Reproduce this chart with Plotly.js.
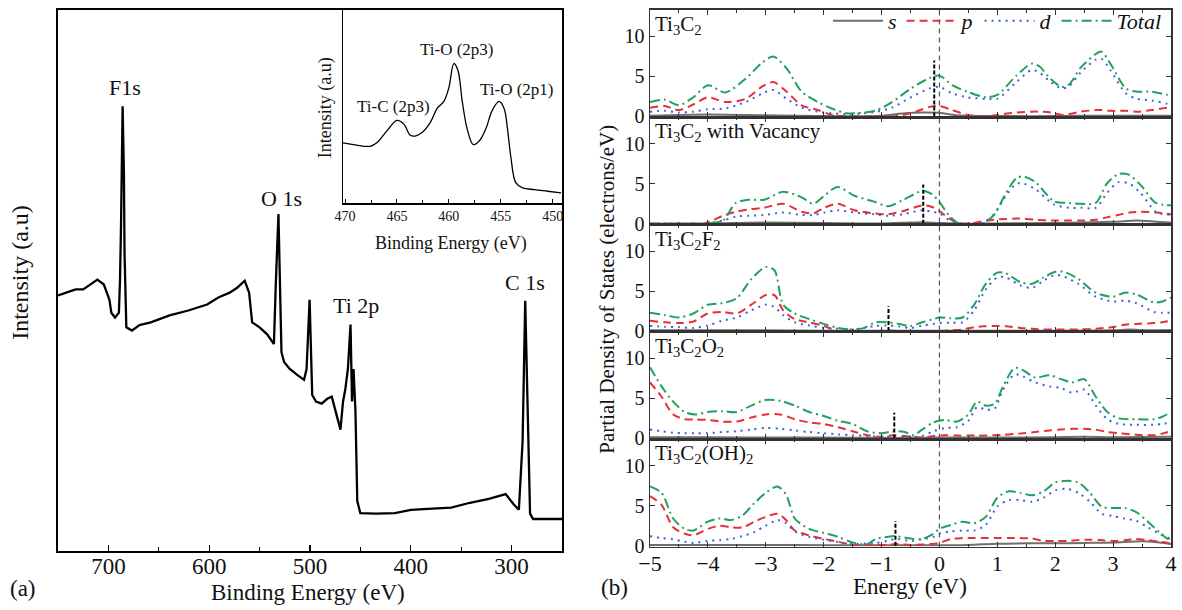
<!DOCTYPE html>
<html><head><meta charset="utf-8">
<script src="https://cdn.plot.ly/plotly-3.0.1.min.js"></script>
<style>html,body{margin:0;padding:0;background:#fff;} #chart{width:1182px;height:610px;}</style>
</head><body><div id="chart"></div>
<script>
// ---------- (a) XPS survey ----------
const xpsE = [750,741.8,732.5,725,717.6,710.9,704.5,699,697.1,693.4,689.6,688.5,687.5,685.9,684.6,684,682.2,676.6,669.2,658,639.3,620.7,602.1,590.9,579.7,572.3,564.8,560.4,557.4,550,542.5,538.7,535.8,533.9,531.3,529.4,528.3,525.7,520.1,512.7,505.9,503.4,500.4,497.8,494,488.4,482.9,478.4,473.5,469.8,467.2,465,462.4,459.8,458.3,456.8,454.9,453.1,450.1,434.4,415.8,399.8,378.5,359.9,341.3,322.6,305.9,298.4,292.8,289.1,286.5,284.6,281.7,278.7,266.8,250];
const xpsI = [47.3,47.8,48.4,48.4,49.3,50.2,49.3,46.5,44.1,43.2,44.1,50,60,82.2,70,55.1,41.4,40.8,41.8,42.3,43.6,44.5,45.6,46.9,47.8,48.7,50.0,47.8,42.3,41.4,40.1,39.2,38.3,49.6,62.3,46.0,36.8,35.0,33.7,32.6,31.7,33.7,46.5,28.9,27.7,27.3,28.2,28.6,25.3,22.5,27.7,29.9,33.7,41.9,27.7,33.7,25.8,9.3,7.1,7.0,7.1,7.7,7.9,8.1,9.0,9.7,10.6,8.8,7.7,20.3,46.3,31.9,7.0,6.0,6.0,6.0];
const xpsTickVals = [700,600,500,400,300];
const xpsLabels = ['F1s','O 1s','Ti 2p','C 1s'];
const xpsLabelE = [684,528.3,454.2,287.2];
const xpsLabelI = [85.7,65.2,45.4,49.6];

// inset Ti 2p
const insetE = [470.2,469.19,467.58,466.94,465.97,465.0,464.35,463.71,463.23,462.58,461.77,461.13,460.48,460.0,459.52,459.13,458.71,458.23,457.65,457.1,456.45,455.81,455.16,454.68,454.35,454.03,453.55,452.9,451.77,450.48,449.19];
const insetI = [31.3,30.4,29.5,31.3,37.5,42.9,41.1,35.2,34.8,36.6,42.0,49.1,52.7,59.8,72.3,68.8,52.7,38.4,30.4,32.1,38.4,48.2,52.7,49.1,38.4,24.1,10.7,8.0,7.1,6.25,5.4];
const insetTickVals = [470,465,460,455,450];
const insetLabels = ['Ti-C (2p3)','Ti-O (2p3)','Ti-O (2p1)'];
const insetLabelE = [465.3,459.2,453.4];
const insetLabelI = [50,79.5,58.9];

// ---------- (b) PDOS ----------
const panelNames = ['Ti<sub>3</sub>C<sub>2</sub>','Ti<sub>3</sub>C<sub>2</sub> with Vacancy','Ti<sub>3</sub>C<sub>2</sub>F<sub>2</sub>','Ti<sub>3</sub>C<sub>2</sub>O<sub>2</sub>','Ti<sub>3</sub>C<sub>2</sub>(OH)<sub>2</sub>'];
const seriesNames = ['s','p','d','Total'];
const fermiE = 0;
const markE = [-0.09,-0.28,-0.88,-0.78,-0.76];
const markH = [7.0,4.9,3.1,3.2,3.1];

const E1 = [-5,-4.75,-4.5,-4.25,-4,-3.7,-3.35,-3.05,-2.87,-2.64,-2.38,-2.1,-1.86,-1.6,-1.3,-1.08,-0.82,-0.49,-0.17,0,0.22,0.48,0.81,1.0,1.33,1.59,1.72,1.92,2.11,2.24,2.44,2.7,2.8,2.96,3.22,3.41,3.67,3.93,4];
const tot1 = [1.8,2.1,1.4,2.4,3.9,3.0,4.7,6.8,7.5,6.0,3.1,1.8,1.0,0.4,0.5,0.8,1.8,3.5,4.8,5.1,3.9,3.1,2.4,2.7,5.1,6.6,6.3,4.7,3.7,4.0,6.1,7.8,8.1,6.5,3.5,3.1,3.1,2.7,2.6];
const p1 = [1.1,1.3,0.8,1.5,2.4,1.8,2.2,3.8,4.3,3.1,1.4,0.8,0.2,0,0,0,0,0.4,1.2,1.3,0.8,0.2,0,0.2,0.5,0.6,0.6,0.5,0.2,0.3,0.6,0.8,0.8,0.7,0.7,0.6,0.8,1.1,1.1];
const d1 = [0.6,0.7,0.5,0.6,0.9,1.0,1.8,2.9,3.3,2.2,1.1,0.6,0.4,0.3,0.4,0.6,1.1,2.4,3.5,3.7,2.9,2.4,2.2,2.2,4.3,5.8,5.5,4.3,3.5,3.8,5.5,7.1,7.2,5.7,2.9,2.2,2.0,1.6,1.5];
const sE1 = [-5,-4,-3,-2,-1,-0.6,-0.3,0,0.3,1,2,3,4];
const s1 = [0.1,0.25,0.15,0.05,0.1,0.4,0.5,0.45,0.15,0.05,0.05,0.1,0.1];

const E2 = [-5,-4.3,-4.07,-3.74,-3.52,-3.29,-3.03,-2.7,-2.38,-2.18,-1.99,-1.76,-1.47,-1.14,-0.88,-0.62,-0.29,-0.13,0,0.16,0.32,0.48,0.74,0.94,1.14,1.33,1.46,1.66,1.98,2.24,2.44,2.7,2.89,3.09,3.28,3.48,3.74,4];
const tot2 = [0,0,0,0.4,2.6,3.0,3.0,4.0,3.3,2.5,3.5,4.6,3.5,2.8,2.2,3.0,4.1,3.7,2.7,1.1,0.1,0,0,1.1,3.7,5.7,5.9,5.2,2.8,2.6,2.5,2.6,5.0,6.2,6.1,4.8,2.6,2.3];
const p2 = [0,0,0,1.0,1.5,1.8,2.0,2.5,1.5,1.3,2.0,2.5,1.7,1.3,1.2,1.6,2.3,2.1,1.6,0.7,0.1,0,0.3,0.5,0.6,0.65,0.65,0.5,0.4,0.4,0.4,0.5,0.8,1.1,1.4,1.5,1.4,1.2];
const d2 = [0,0,0,0.4,0.9,1.0,1.1,1.4,1.1,1.1,1.4,1.7,1.4,1.2,1.0,1.2,1.7,1.5,1.3,0.5,0.1,0,0.1,1.2,3.4,5.0,5.0,4.3,2.4,2.0,2.0,2.0,3.8,5.2,5.0,3.8,1.5,1.1];
const sE2 = [-5,-4,-3,-2,-1,-0.3,0,0.5,1,2,3,3.4,3.7,4];
const s2 = [0,0.05,0.15,0.1,0.05,0.2,0.1,0,0.05,0.1,0.25,0.4,0.3,0.15];

const E3 = [-5,-4.75,-4.5,-4.25,-4,-3.75,-3.5,-3.25,-3.0,-2.85,-2.7,-2.5,-2.25,-2,-1.75,-1.5,-1.3,-1.1,-0.9,-0.7,-0.5,-0.3,-0.1,0,0.2,0.4,0.6,0.8,1.0,1.15,1.4,1.6,1.8,2.0,2.15,2.4,2.7,3.0,3.2,3.4,3.7,3.85,4];
const tot3 = [2.3,2.0,1.7,2.2,3.3,3.5,4.1,6.5,8.0,7.6,3.3,2.2,1.5,0.9,0.4,0.2,0.4,1.1,1.1,0.9,0.65,1.1,1.5,1.7,1.6,1.7,3.3,5.9,7.3,7.2,6.1,5.9,6.7,7.4,7.4,6.5,4.8,4.3,4.8,4.6,3.6,3.7,4.2];
const p3 = [1.3,1.1,1.0,1.2,2.2,2.4,2.2,3.3,4.5,4.5,2.6,1.5,1.1,0.65,0,0,0,0,0.1,0,0,0,0,0,0.1,0.2,0.5,0.6,0.65,0.6,0.4,0.3,0.2,0.2,0.2,0.2,0.3,0.5,0.8,0.9,1.0,1.1,1.3];
const d3 = [0.65,0.55,0.5,0.4,0.7,1.3,1.7,2.6,3.3,3.0,2.0,1.1,0.7,0.4,0.3,0.2,0.4,0.65,0.7,0.6,0.4,0.7,0.9,1.0,1.05,1.1,2.6,5.2,6.7,6.7,5.7,5.4,6.3,7.0,6.8,5.9,4.3,3.7,3.8,3.5,2.4,2.3,2.3];
const sE3 = [-5,-4,-3,-2,-1,0,1,2,3,3.3,3.6,4];
const s3 = [0.1,0.1,0.1,0.05,0.05,0.05,0.05,0.05,0.1,0.2,0.1,0.15];

const E4 = [-5,-4.8,-4.6,-4.4,-4.2,-4.0,-3.75,-3.5,-3.25,-3.0,-2.75,-2.5,-2.25,-2.0,-1.75,-1.5,-1.25,-1.0,-0.8,-0.6,-0.45,-0.3,-0.1,0.1,0.3,0.5,0.65,0.8,0.95,1.1,1.3,1.45,1.65,1.9,2.1,2.3,2.5,2.7,2.9,3.1,3.4,3.7,3.85,4];
const tot4 = [8.9,6.5,4.6,3.3,3.0,3.3,3.4,3.3,4.1,4.8,4.7,4.1,3.3,2.8,2.2,1.8,0.9,0.65,0.9,0.8,0.4,1.1,2.0,2.3,2.1,3.0,4.6,4.1,4.3,6.5,8.8,8.5,7.6,7.9,7.4,7.0,7.4,5.2,3.3,2.5,2.4,2.4,2.7,3.3];
const p4 = [7.0,5.2,3.0,2.4,2.35,2.3,2.1,2.1,2.6,3.0,3.0,2.4,2.0,1.8,1.4,0.9,0.4,0.2,0.4,0.3,0.2,0.1,0.3,0.4,0.35,0.35,0.35,0.35,0.4,0.45,0.55,0.65,0.8,1.0,1.1,1.2,1.2,1.1,0.8,0.65,0.45,0.4,0.6,0.9];
const d4 = [1.1,0.9,0.7,0.65,0.65,0.65,0.8,0.9,1.1,1.3,1.2,1.0,0.8,0.65,0.5,0.4,0.3,0.2,0.2,0.2,0.2,0.3,0.9,1.3,1.4,2.2,3.9,3.6,3.7,6.1,8.0,7.7,7.0,6.5,6.3,5.7,6.1,4.1,2.4,1.8,1.7,1.7,1.8,2.0];
const sE4 = [-5,-4,-3,-2,-1,0,1,2,2.5,3,4];
const s4 = [0.15,0.15,0.1,0.1,0.05,0.1,0.1,0.15,0.2,0.15,0.2];

const E5 = [-5,-4.8,-4.6,-4.4,-4.25,-4.0,-3.8,-3.6,-3.4,-3.2,-3.0,-2.8,-2.65,-2.5,-2.25,-2.0,-1.75,-1.5,-1.25,-1.1,-0.9,-0.75,-0.5,-0.3,-0.1,0,0.2,0.4,0.6,0.8,1.0,1.2,1.4,1.6,1.8,2.0,2.2,2.4,2.6,2.8,3.0,3.2,3.4,3.6,3.8,3.95,4];
const tot5 = [7.4,6.6,3.4,2.1,1.9,3.0,3.4,3.2,3.8,5.3,6.6,7.4,6.4,3.4,2.1,1.6,1.1,0.4,0.2,0.85,1.1,1.2,0.9,0.85,1.5,2.1,2.6,3.0,2.8,3.6,6.0,6.8,6.6,6.3,6.8,7.9,8.1,7.9,6.6,4.9,4.7,4.7,4.2,3.0,1.7,0.85,1.2];
const p5 = [6.2,5.1,2.3,1.5,1.3,2.1,2.5,2.3,2.3,3.0,3.6,4.0,3.2,1.9,1.3,0.85,0.5,0.1,0.1,0.1,0.1,0.2,0.1,0.15,0.25,0.35,0.85,0.95,0.95,0.95,0.95,0.95,0.95,0.9,0.6,0.6,0.6,0.7,0.75,0.7,0.6,0.7,0.85,0.7,0.5,0.35,0.1];
const d5 = [1.2,0.95,0.8,0.5,0.35,0.6,0.7,0.85,1.2,1.7,2.5,3.2,2.8,1.8,1.1,0.75,0.45,0.2,0.3,0.35,0.6,0.85,0.6,0.8,1.1,1.5,1.8,1.9,1.9,2.6,4.9,5.7,5.7,5.5,6.0,6.9,7.1,6.6,5.5,4.0,3.7,3.4,3.1,2.3,1.5,1.0,0.85];
const sE5 = [-5,-4,-3,-2,-1,0,0.5,1,1.5,2,2.5,3,3.5,3.8,4];
const s5 = [0.1,0.1,0.1,0.05,0.05,0.05,0.1,0.25,0.3,0.3,0.35,0.4,0.55,0.4,0.2];

// ---------- build ----------
const W = 1182, H = 610;
const fx = px => px / W, fy = py => 1 - py / H;
const FONT = "'Liberation Serif', 'Times New Roman', Times, serif";
const styles = [
  {color:'#6e6e6e', width:2, dash:'solid'},
  {color:'#e5303a', width:2, dash:'8px,5px'},
  {color:'#3a64d8', width:2, dash:'2px,5px'},
  {color:'#22a05e', width:2, dash:'10px,4px,2px,4px'}
];
const panels = [
  {sE:sE1, s:s1, E:E1, p:p1, d:d1, t:tot1},
  {sE:sE2, s:s2, E:E2, p:p2, d:d2, t:tot2},
  {sE:sE3, s:s3, E:E3, p:p3, d:d3, t:tot3},
  {sE:sE4, s:s4, E:E4, p:p4, d:d4, t:tot4},
  {sE:sE5, s:s5, E:E5, p:p5, d:d5, t:tot5}
];

const traces = [];
traces.push({x:xpsE, y:xpsI, xaxis:'x', yaxis:'y', mode:'lines', line:{color:'#000', width:2.3}, showlegend:false, hoverinfo:'skip'});
traces.push({x:insetE, y:insetI, xaxis:'x2', yaxis:'y2', mode:'lines', line:{color:'#000', width:1.3, shape:'spline'}, showlegend:false, hoverinfo:'skip'});

const layout = {
  width:W, height:H, margin:{l:0,r:0,t:0,b:0},
  paper_bgcolor:'#fff', plot_bgcolor:'rgba(0,0,0,0)',
  font:{family:FONT, color:'#111', size:20},
  showlegend:true,
  legend:{orientation:'h', x:fx(828), y:fy(16), xanchor:'left', yanchor:'middle',
    font:{family:FONT, size:22, style:'italic', color:'#111'}, bgcolor:'rgba(0,0,0,0)',
    itemwidth:50, tracegroupgap:0, traceorder:'normal'},
  xaxis:{domain:[fx(58),fx(562)], range:[750,250], anchor:'y', showline:true, mirror:true, linecolor:'#000', linewidth:1.6,
    ticks:'inside', ticklen:6, tickwidth:1.3, tickcolor:'#000', tickmode:'linear', tick0:300, dtick:100,
    minor:{dtick:50, ticks:'inside', ticklen:4, tickcolor:'#000'}, ticklabelstandoff:-7,
    showgrid:false, zeroline:false, tickfont:{size:23, family:FONT}},
  yaxis:{domain:[fy(551),fy(5)], range:[0,100], anchor:'x', showline:true, mirror:true, linecolor:'#000', linewidth:1.6,
    showticklabels:false, ticks:'', showgrid:false, zeroline:false},
  xaxis2:{domain:[fx(343),fx(562)], range:[470.2,449.1], anchor:'y2', showline:true, mirror:false, linecolor:'#000', linewidth:1.2,
    ticks:'inside', ticklen:4, tickcolor:'#000', tickmode:'array', tickvals:insetTickVals,
    minor:{dtick:2.5, tick0:450, ticks:'inside', ticklen:3, tickcolor:'#000'},
    showgrid:false, zeroline:false, tickfont:{size:14, family:FONT}},
  yaxis2:{domain:[fy(200),fy(5)], range:[0,100], anchor:'x2', showline:true, mirror:false, linecolor:'#000', linewidth:1.2,
    showticklabels:false, ticks:'', showgrid:false, zeroline:false},
  shapes:[], annotations:[]
};

const pTop = 5, pH = (546 - 5) / 5;
panels.forEach((P, k) => {
  const n = k + 3;
  const xa = 'x' + n, ya = 'y' + n;
  const top = pTop + k * pH, bot = top + pH;
  layout['xaxis' + n] = {domain:[fx(650),fx(1171)], range:[-5,4], anchor:ya, showline:true, mirror:'ticks',
    linecolor:'#333', linewidth:1.5, ticks:'inside', ticklen:5, tickcolor:'#333', tickmode:'linear', tick0:-5, dtick:1,
    minor:{dtick:0.5, ticks:'inside', ticklen:3, tickcolor:'#333'}, ticklabelstandoff:-3,
    showgrid:false, zeroline:false, showticklabels:(k === 4), tickfont:{size:22, family:FONT}};
  if (k < 4) layout['xaxis' + n].matches = 'x7';
  layout['yaxis' + n] = {domain:[fy(bot),fy(top)], range:[-0.1,13.3], anchor:xa, showline:true, mirror:'ticks',
    linecolor:'#333', linewidth:1.5, ticks:'inside', ticklen:5, tickcolor:'#333', tickmode:'array', tickvals:[0,5,10],
    showgrid:false, zeroline:false, tickfont:{size:20, family:FONT}};
  const data = [[P.sE, P.s],[P.E, P.p],[P.E, P.d],[P.E, P.t]];
  data.forEach((xy, i) => {
    traces.push({x:xy[0], y:xy[1], xaxis:xa, yaxis:ya, mode:'lines', name:seriesNames[i],
      line:Object.assign({shape:'spline', smoothing:0.8}, styles[i]), legendgroup:seriesNames[i],
      showlegend:(k === 0), hoverinfo:'skip'});
  });
  traces.push({x:[markE[k], markE[k]], y:[0, markH[k]], xaxis:xa, yaxis:ya, mode:'lines',
    line:{color:'#000', width:2, dash:'4px,2px'}, showlegend:false, hoverinfo:'skip'});
  layout.annotations.push({text:panelNames[k], xref:xa + ' domain', yref:ya + ' domain', x:0, y:1,
    xanchor:'left', yanchor:'top', xshift:3, yshift:0, showarrow:false, font:{size:21, family:FONT, color:'#111'}});
});
layout.shapes.push({type:'line', xref:'x7', yref:'paper', x0:fermiE, x1:fermiE, y0:fy(546), y1:fy(5),
  line:{color:'#555', width:1.2, dash:'5px,4px'}});

xpsLabels.forEach((t, i) => layout.annotations.push({text:t, xref:'x', yref:'y', x:xpsLabelE[i], y:xpsLabelI[i],
  showarrow:false, font:{size:22, family:FONT, color:'#111'}}));
insetLabels.forEach((t, i) => layout.annotations.push({text:t, xref:'x2', yref:'y2', x:insetLabelE[i], y:insetLabelI[i],
  showarrow:false, font:{size:17, family:FONT, color:'#111'}}));

const txt = (text, x, y, size, extra) => Object.assign({text, xref:'paper', yref:'paper', x:fx(x), y:fy(y),
  xanchor:'center', yanchor:'middle', showarrow:false, font:{size, family:FONT, color:'#111'}}, extra || {});
layout.annotations.push(txt('Intensity (a.u)', 20, 270, 24, {textangle:-90}));
layout.annotations.push(txt('Binding Energy (eV)', 308, 592, 23));
layout.annotations.push(txt('(a)', 23, 588, 23));
layout.annotations.push(txt('Intensity (a.u)', 325, 103, 18, {textangle:-90}));
layout.annotations.push(txt('Binding Energy (eV)', 451, 240, 18));
layout.annotations.push(txt('Partial Density of States (electrons/eV)', 607, 287, 21, {textangle:-90}));
layout.annotations.push(txt('Energy (eV)', 910, 586, 23));
layout.annotations.push(txt('(b)', 615, 587, 23));

Plotly.newPlot('chart', traces, layout, {staticPlot:true, displayModeBar:false});
</script></body></html>
